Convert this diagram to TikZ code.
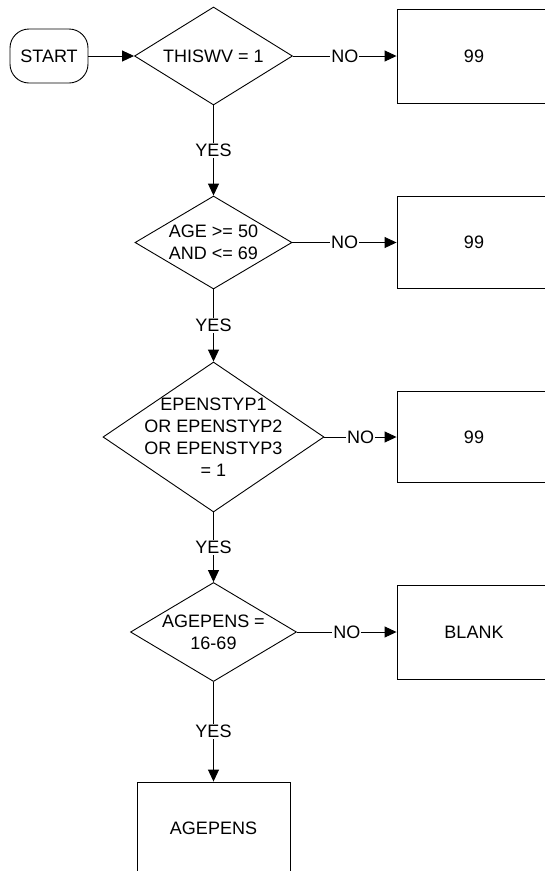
\documentclass[tikz,border=0pt]{standalone}
\usepackage{fontspec}
\setmainfont{Liberation Sans}
\usetikzlibrary{arrows.meta,positioning,shapes.geometric}
\tikzset{
  box/.style={draw,minimum width=154pt,minimum height=94pt,inner sep=0pt},
  dia/.style={draw,diamond,inner sep=0pt},
  term/.style={draw,rounded corners=19pt,minimum width=78pt,minimum height=54pt,inner sep=0pt},
  arr/.style={-{Triangle[length=12pt,width=11pt]}},
  lbl/.style={fill=white,inner sep=1pt},
}

\begin{document}
\begin{tikzpicture}[x=1pt,y=-1pt,line width=0.9pt,every node/.style={font=\fontsize{18}{22}\selectfont}]
 \useasboundingbox (0,0) rectangle (545,871); \clip (0,0) rectangle (545,871);
 % left column: start and questions
 \node[term] (start) at (49,56){START};
 \node[dia,minimum width=158pt,minimum height=98pt,label={[align=center]center:{THISWV = 1}}] (q1) at (213.5,56){};
 \node[dia,minimum width=157pt,minimum height=93pt,label={[align=center]center:{AGE >= 50\\AND <= 69}}] (q2) at (213.5,242.5){};
 \node[dia,minimum width=221pt,minimum height=150pt,label={[align=center]center:{EPENSTYP1\\OR EPENSTYP2\\OR EPENSTYP3\\= 1}}] (q3) at (213.5,437){};
 \node[dia,minimum width=166pt,minimum height=99pt,label={[align=center]center:{AGEPENS =\\16-69}}] (q4) at (213.5,632){};
 \node[box,minimum width=153pt,minimum height=92pt] (res) at (213.5,828){AGEPENS};
 % right column: outcomes
 \node[box] (r1) at (474,56){99}; \node[box,minimum height=92pt] (r2) at (474,242.5){99};
 \node[box,minimum height=91pt] (r3) at (474,437){99}; \node[box] (r4) at (474,632){BLANK};
 \draw[arr](start)--(q1);
 \draw[arr](q1)--node[lbl]{NO}(r1); \draw[arr](q2)--node[lbl]{NO}(r2);
 \draw[arr](q3)--node[lbl]{NO}(r3); \draw[arr](q4)--node[lbl]{NO}(r4);
 \draw[arr](q1)--node[lbl]{YES}(q2); \draw[arr](q2)--node[lbl]{YES}(q3);
 \draw[arr](q3)--node[lbl]{YES}(q4); \draw[arr](q4)--node[lbl]{YES}(res);
\end{tikzpicture}
\end{document}
